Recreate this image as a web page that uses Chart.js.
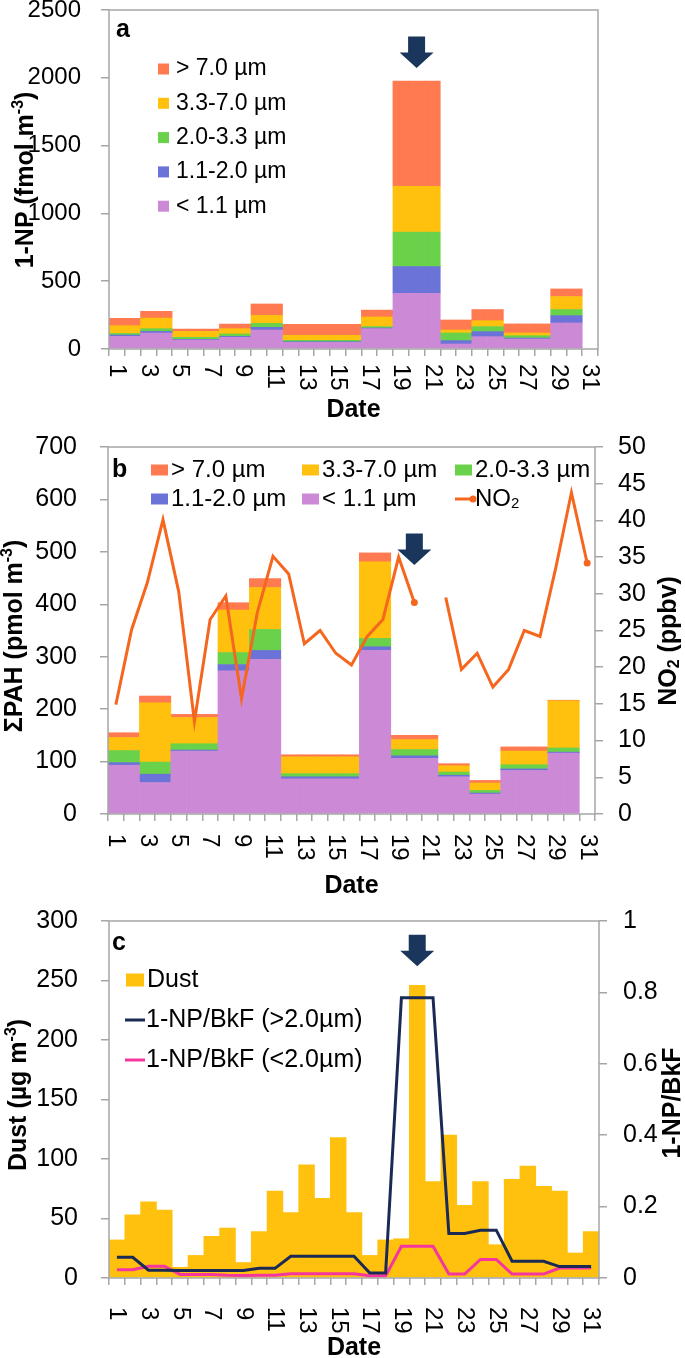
<!DOCTYPE html>
<html>
<head>
<meta charset="utf-8">
<script src="https://cdn.jsdelivr.net/npm/chart.js@4.4.1/dist/chart.umd.min.js"></script>
<style>
  body { margin: 0; background: #fff; }
  canvas { position: absolute; left: 0; }
</style>
</head>
<body>
<canvas id="chartA" width="685" height="430" style="top:0px"></canvas>
<canvas id="chartB" width="685" height="470" style="top:430px"></canvas>
<canvas id="chartC" width="685" height="458" style="top:900px"></canvas>
<script>
// ---- data ----
const days = ['1','2','3','4','5','6','7','8','9','10','11','12','13','14','15','16',
  '17','18','19','20','21','22','23','24','25','26','27','28','29','30','31'];

// sampling periods (first / last day of each impactor sample)
const periodStart = [1, 3, 5, 8, 10, 12, 17, 19, 22, 24, 26, 29];
const periodEnd   = [2, 4, 7, 9, 11, 16, 18, 21, 23, 25, 28, 30];

// 1-NP (fmol m-3) by particle size
const npLt11  = [93, 118, 66, 86, 140, 49, 150, 411, 37, 91, 74, 192];
const np11_20 = [10, 12, 5, 7, 20, 5, 5, 197, 25, 37, 7, 54];
const np20_33 = [12, 20, 15, 18, 29, 10, 10, 254, 56, 37, 17, 45];
const np33_70 = [57, 78, 44, 39, 59, 37, 71, 338, 22, 44, 20, 96];
const npGt70  = [54, 50, 17, 34, 84, 81, 51, 775, 74, 82, 67, 56];

// sum PAH (pmol m-3) by particle size
const pahLt11  = [93, 60, 120, 273, 295, 67, 312, 106, 71, 38, 83, 116];
const pah11_20 = [5, 16, 2, 12, 17, 4, 7, 5, 3, 2, 3, 2];
const pah20_33 = [23, 23, 12, 23, 40, 6, 16, 12, 6, 5, 8, 8];
const pah33_70 = [25, 113, 50, 81, 80, 32, 146, 19, 12, 14, 26, 90];
const pahGt70  = [9, 13, 6, 14, 17, 4, 17, 8, 4, 5, 8, 1];

// daily NO2 (ppbv), day 21 missing
const no2 = [14.9, 25.1, 31.5, 40.1, 30.3, 12.6, 26.5, 29.7, 15.7, 27.4, 35.1, 32.7, 23.2, 25.0, 21.9, 20.3,
  24.2, 26.5, 35.0, 28.8, null, 29.5, 19.7, 21.9, 17.3, 19.7, 25.0, 24.2, 33.5, 43.8, 34.2];

// daily dust (ug m-3)
const dust = [32, 53, 64, 57, 9, 19, 35, 42, 13, 39, 73, 55, 95, 67, 118, 55,
  19, 32, 33, 246, 81, 120, 61, 81, 28, 83, 94, 77, 73, 21, 39];

// 1-NP/BkF ratio
const ratioCoarse = [0.058, 0.058, 0.022, 0.022, 0.021, 0.021, 0.021, 0.021, 0.021, 0.027, 0.027, 0.061, 0.061, 0.061, 0.061, 0.061,
  0.014, 0.014, 0.785, 0.785, 0.785, 0.125, 0.125, 0.134, 0.134, 0.047, 0.047, 0.047, 0.032, 0.032, 0.032];
const ratioFine = [0.023, 0.023, 0.033, 0.033, 0.010, 0.010, 0.010, 0.008, 0.007, 0.008, 0.008, 0.012, 0.012, 0.012, 0.012, 0.012,
  0.006, 0.006, 0.089, 0.089, 0.089, 0.011, 0.011, 0.052, 0.052, 0.011, 0.011, 0.011, 0.028, 0.028, 0.028];

const sizeLabels = ['< 1.1 µm', '1.1-2.0 µm', '2.0-3.3 µm', '3.3-7.0 µm', '> 7.0 µm'];
const sizeColors = ['#cc8ad6', '#6b72d8', '#6ad24a', '#ffc10e', '#ff7a50'];

// ---- helpers ----
const AXIS = '#a6a6a6';
const FONT = '"Liberation Sans", Arial, Helvetica, sans-serif';
Chart.defaults.font.family = FONT;
Chart.defaults.color = '#000';

// spread a per-period value over the days of that period
function byDay(values) {
  return days.map((d, i) => {
    const day = i + 1;
    const p = periodStart.findIndex((s, k) => day >= s && day <= periodEnd[k]);
    return p < 0 ? null : values[p];
  });
}

// text with ^{sup} and _{sub}
function drawRich(ctx, str, x, y, size, bold, align) {
  const parts = str.split(/(\^\{[^}]*\}|_\{[^}]*\})/).filter(Boolean).map(p => {
    if (p.startsWith('^{')) return { t: p.slice(2, -1), dy: -0.3, k: 0.62 };
    if (p.startsWith('_{')) return { t: p.slice(2, -1), dy: 0.22, k: 0.62 };
    return { t: p, dy: 0, k: 1 };
  });
  const f = k => (bold ? 'bold ' : '') + Math.round(size * k) + 'px ' + FONT;
  let w = 0;
  parts.forEach(p => { ctx.font = f(p.k); p.w = ctx.measureText(p.t).width; w += p.w; });
  let cx = align === 'center' ? x - w / 2 : x;
  ctx.textAlign = 'left';
  ctx.textBaseline = 'middle';
  parts.forEach(p => { ctx.font = f(p.k); ctx.fillText(p.t, cx, y + p.dy * size); cx += p.w; });
}

const decor = {
  id: 'decor',
  afterDraw(chart, args, o) {
    const { ctx, chartArea: a } = chart;
    const xs = chart.scales.x, ys = chart.scales.y;
    ctx.save();
    ctx.strokeStyle = AXIS;
    ctx.lineWidth = 1.5;
    ctx.strokeRect(a.left, a.top, a.right - a.left, a.bottom - a.top);

    // date labels, rotated to read top to bottom
    ctx.fillStyle = '#000';
    ctx.font = o.labelSize + 'px ' + FONT;
    chart.data.labels.forEach((lab, i) => {
      if (i % 2) return;
      ctx.save();
      ctx.translate(xs.getPixelForValue(i), a.bottom + o.labelGap);
      ctx.rotate(Math.PI / 2);
      ctx.textAlign = 'left';
      ctx.textBaseline = 'middle';
      ctx.fillText(lab, 0, 0);
      ctx.restore();
    });

    drawRich(ctx, 'Date', (a.left + a.right) / 2, o.xTitleY, 25, true, 'center');
    o.yTitles.forEach(t => {
      ctx.save();
      ctx.translate(t.x, t.y);
      ctx.rotate(-Math.PI / 2);
      drawRich(ctx, t.text, 0, 0, 25, true, 'center');
      ctx.restore();
    });

    ctx.font = 'bold 25px ' + FONT;
    ctx.textAlign = 'left';
    ctx.textBaseline = 'alphabetic';
    ctx.fillText(o.letter, o.letterX, o.letterY);

    // legend
    const L = o.legend;
    L.items.forEach((di, k) => {
      const ds = chart.data.datasets[di];
      const [x, y] = L.pos[k];
      if (ds.type === 'line') {
        ctx.strokeStyle = ds.borderColor;
        ctx.lineWidth = 3;
        ctx.beginPath();
        ctx.moveTo(x, y);
        ctx.lineTo(x + L.lineW, y);
        ctx.stroke();
        if (L.dot === di) {
          ctx.fillStyle = ds.borderColor;
          ctx.beginPath();
          ctx.arc(x + L.lineW, y, 3.5, 0, Math.PI * 2);
          ctx.fill();
        }
      } else {
        ctx.fillStyle = ds.backgroundColor;
        ctx.fillRect(x, y - L.boxH / 2, L.boxW, L.boxH);
      }
      ctx.fillStyle = '#000';
      drawRich(ctx, ds.label, x + L.textDx, y, L.size, false, 'left');
    });

    // dust event arrow
    const ax = xs.getPixelForValue(o.arrow.index);
    const tip = ys.getPixelForValue(o.arrow.tip);
    const hw = 17, sw = 8.5, hh = 15.5, sh = 16;
    ctx.fillStyle = '#1b365d';
    ctx.beginPath();
    ctx.moveTo(ax - sw, tip - hh - sh);
    ctx.lineTo(ax + sw, tip - hh - sh);
    ctx.lineTo(ax + sw, tip - hh);
    ctx.lineTo(ax + hw, tip - hh);
    ctx.lineTo(ax, tip);
    ctx.lineTo(ax - hw, tip - hh);
    ctx.lineTo(ax - sw, tip - hh);
    ctx.closePath();
    ctx.fill();
    ctx.restore();
  }
};

function xAxis(height) {
  return {
    type: 'category', offset: true, stacked: true,
    grid: { display: true, offset: true, drawOnChartArea: false, drawTicks: true, tickLength: 7, color: AXIS, lineWidth: 1.5 },
    border: { display: false },
    ticks: { display: false },
    afterFit(s) {
      s.height = height;
      s.paddingLeft = 0; s.paddingRight = 0; s.paddingTop = 0; s.paddingBottom = 0;
    }
  };
}

function yAxis(pos, min, max, step, width, pad, size, stacked) {
  return {
    position: pos, min: min, max: max, stacked: !!stacked,
    grid: { drawOnChartArea: false, tickLength: 8, color: AXIS, lineWidth: 1.5 },
    border: { display: false },
    ticks: { stepSize: step, padding: pad, font: { size: size }, color: '#000',
      callback: v => String(Math.round(v * 100) / 100) },
    afterFit(s) {
      s.width = width;
      s.paddingLeft = 0; s.paddingRight = 0; s.paddingTop = 0; s.paddingBottom = 0;
    }
  };
}

function sizeSets(series) {
  return series.map((vals, i) => ({
    label: sizeLabels[i], data: byDay(vals), backgroundColor: sizeColors[i],
    yAxisID: 'y', stack: 's', order: 1,
    barPercentage: 1, categoryPercentage: 1, borderWidth: 0
  }));
}

const common = { responsive: false, animation: false, devicePixelRatio: 1, events: [] };

// ---- panel a ----
new Chart(document.getElementById('chartA'), {
  type: 'bar',
  data: { labels: days, datasets: sizeSets([npLt11, np11_20, np20_33, np33_70, npGt70]) },
  options: Object.assign({}, common, {
    layout: { padding: { top: 10, right: 87, left: 0, bottom: 0 } },
    scales: { x: xAxis(81), y: yAxis('left', 0, 2500, 500, 109, 20, 24, true) },
    plugins: {
      legend: { display: false }, tooltip: { enabled: false },
      decor: {
        labelSize: 24, labelGap: 15, xTitleY: 410,
        yTitles: [{ text: '1-NP (fmol m^{-3})', x: 26, y: 180 }],
        letter: 'a', letterX: 116, letterY: 37,
        legend: { items: [4, 3, 2, 1, 0], pos: [[158, 69], [158, 103.3], [158, 137.6], [158, 171.9], [158, 206.2]],
          boxW: 11, boxH: 11, textDx: 18, size: 23 },
        arrow: { index: 19, tip: 2072 }
      }
    }
  }),
  plugins: [decor]
});

// ---- panel b ----
const setsB = sizeSets([pahLt11, pah11_20, pah20_33, pah33_70, pahGt70]);
setsB.push({
  type: 'line', label: 'NO_{2}', data: no2, yAxisID: 'y2', order: 0,
  borderColor: '#f5671f', backgroundColor: '#f5671f', borderWidth: 3, tension: 0, spanGaps: false,
  pointRadius: c => (no2[c.dataIndex + 1] == null ? 3.5 : 0), pointBorderWidth: 0
});
new Chart(document.getElementById('chartB'), {
  type: 'bar',
  data: { labels: days, datasets: setsB },
  options: Object.assign({}, common, {
    layout: { padding: { top: 17, right: 0, left: 0, bottom: 0 } },
    scales: {
      x: xAxis(86),
      y: yAxis('left', 0, 700, 100, 108, 23, 25, true),
      y2: yAxis('right', 0, 50, 5, 90, 15, 25)
    },
    plugins: {
      legend: { display: false }, tooltip: { enabled: false },
      decor: {
        labelSize: 24, labelGap: 20, xTitleY: 456,
        yTitles: [{ text: 'ΣPAH (pmol m^{-3})', x: 15, y: 206 }, { text: 'NO_{2} (ppbv)', x: 669, y: 211 }],
        letter: 'b', letterX: 112, letterY: 47,
        legend: { items: [4, 3, 2, 1, 0, 5],
          pos: [[151, 40], [302, 40], [455, 40], [151, 69], [302, 69], [455, 69]],
          boxW: 17, boxH: 11, lineW: 18, dot: 5, textDx: 20, size: 24 },
        arrow: { index: 19, tip: 475 }
      }
    }
  }),
  plugins: [decor]
});

// ---- panel c ----
new Chart(document.getElementById('chartC'), {
  type: 'bar',
  data: {
    labels: days,
    datasets: [
      { label: 'Dust', data: dust, backgroundColor: '#ffc10e', yAxisID: 'y', order: 1,
        barPercentage: 1, categoryPercentage: 1, borderWidth: 0 },
      { type: 'line', label: '1-NP/BkF (>2.0µm)', data: ratioCoarse, yAxisID: 'y2', order: 0,
        borderColor: '#1a2a55', borderWidth: 3, pointRadius: 0, tension: 0 },
      { type: 'line', label: '1-NP/BkF (<2.0µm)', data: ratioFine, yAxisID: 'y2', order: 0,
        borderColor: '#f536a0', borderWidth: 3, pointRadius: 0, tension: 0 }
    ]
  },
  options: Object.assign({}, common, {
    layout: { padding: { top: 21, right: 0, left: 0, bottom: 0 } },
    scales: {
      x: xAxis(80),
      y: yAxis('left', 0, 300, 50, 109, 23, 25),
      y2: yAxis('right', 0, 1, 0.2, 86, 16, 25)
    },
    plugins: {
      legend: { display: false }, tooltip: { enabled: false },
      decor: {
        labelSize: 24, labelGap: 29, xTitleY: 448,
        yTitles: [{ text: 'Dust (µg m^{-3})', x: 19, y: 195 }, { text: '1-NP/BkF', x: 673, y: 203 }],
        letter: 'c', letterX: 112, letterY: 50,
        legend: { items: [0, 1, 2], pos: [[126, 80], [125, 120], [125, 160]],
          boxW: 18, boxH: 13, lineW: 20, textDx: 21, size: 25 },
        arrow: { index: 19, tip: 262 }
      }
    }
  }),
  plugins: [decor]
});
</script>
</body>
</html>
